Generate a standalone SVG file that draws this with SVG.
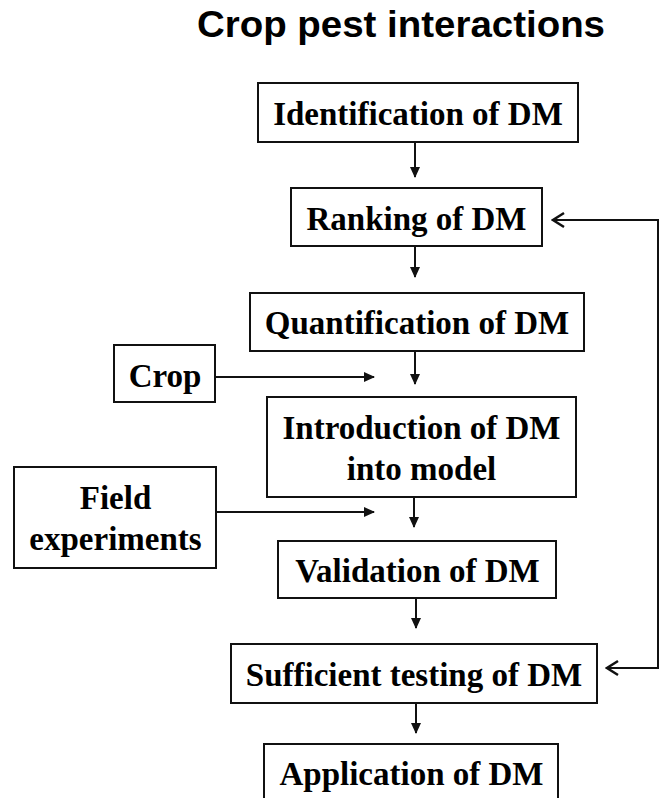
<svg xmlns="http://www.w3.org/2000/svg" width="659" height="798" viewBox="0 0 659 798">
<style>
.box{fill:#fff;stroke:#111;stroke-width:2}
.t{font-family:"Liberation Serif","Times New Roman",serif;font-weight:bold;font-size:33px;fill:#000;text-anchor:middle}
.title{font-family:"Liberation Sans",Arial,sans-serif;font-weight:bold;font-size:36px;fill:#000}
.ln{fill:none;stroke:#111;stroke-width:2}
</style>
<defs>
<marker id="ah" markerUnits="userSpaceOnUse" markerWidth="11" markerHeight="10" viewBox="0 0 11 10" refX="10" refY="5" orient="auto">
<path d="M0,0 L11,5 L0,10 z" fill="#111"/>
</marker>
<marker id="chev" markerUnits="userSpaceOnUse" markerWidth="16" markerHeight="18" viewBox="-14 -9 16 18" refX="0" refY="0" orient="auto">
<path d="M-11,-7 L0,0 L-11,7" fill="none" stroke="#111" stroke-width="2.5"/>
</marker>
</defs>
<rect width="659" height="798" fill="#fff"/>
<text class="title" x="197" y="37" textLength="408" lengthAdjust="spacingAndGlyphs">Crop pest interactions</text>
<g id="connectors">
<line class="ln" x1="415" y1="142" x2="415" y2="177" marker-end="url(#ah)"/>
<line class="ln" x1="415" y1="246" x2="415" y2="277" marker-end="url(#ah)"/>
<line class="ln" x1="415" y1="351" x2="415" y2="384" marker-end="url(#ah)"/>
<line class="ln" x1="414" y1="497" x2="414" y2="527" marker-end="url(#ah)"/>
<line class="ln" x1="416" y1="598" x2="416" y2="628" marker-end="url(#ah)"/>
<line class="ln" x1="416" y1="703" x2="416" y2="733" marker-end="url(#ah)"/>
<line class="ln" x1="215" y1="377" x2="374" y2="377" marker-end="url(#ah)"/>
<line class="ln" x1="216" y1="512" x2="374" y2="512" marker-end="url(#ah)"/>
<line class="ln" x1="658" y1="219" x2="658" y2="669"/>
<line class="ln" x1="658" y1="220" x2="553" y2="220" marker-end="url(#chev)"/>
<line class="ln" x1="658" y1="668" x2="607" y2="668" marker-end="url(#chev)"/>
</g>
<g id="identification"><rect class="box" x="258" y="83" width="320" height="59"/><text class="t" x="418" y="125">Identification of DM</text></g>
<g id="ranking"><rect class="box" x="291" y="188" width="251" height="58"/><text class="t" x="416.5" y="230">Ranking of DM</text></g>
<g id="quantification"><rect class="box" x="250" y="293" width="334" height="58"/><text class="t" x="417" y="334">Quantification of DM</text></g>
<g id="crop"><rect class="box" x="114" y="345" width="101" height="57"/><text class="t" x="165" y="387">Crop</text></g>
<g id="introduction"><rect class="box" x="267" y="397" width="309" height="100"/><text class="t" x="421.5" y="439">Introduction of DM</text><text class="t" x="421.5" y="480">into model</text></g>
<g id="field"><rect class="box" x="14" y="467" width="202" height="101"/><text class="t" x="115.5" y="509">Field</text><text class="t" x="115.5" y="550">experiments</text></g>
<g id="validation"><rect class="box" x="278" y="541" width="278" height="57"/><text class="t" x="417.5" y="582">Validation of DM</text></g>
<g id="sufficient"><rect class="box" x="231" y="644" width="366" height="59"/><text class="t" x="414" y="686">Sufficient testing of DM</text></g>
<g id="application"><rect class="box" x="264" y="744" width="294" height="70"/><text class="t" x="411.5" y="785">Application of DM</text></g>
</svg>
